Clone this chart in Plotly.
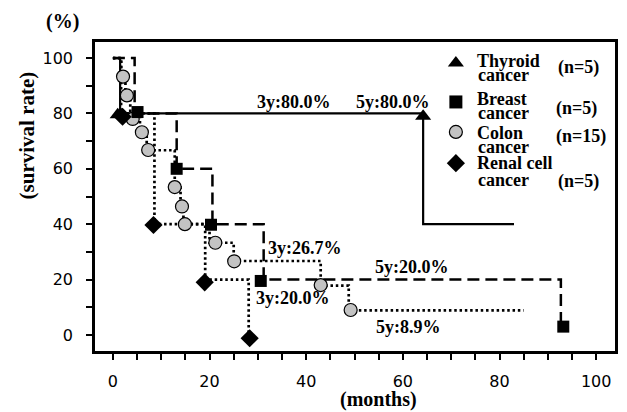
import plotly.graph_objects as go

# ---------------- data ----------------
thyroid_x = [0, 1.5, 1.5, 64.2, 64.2, 83]
thyroid_y = [100, 100, 80, 80, 40, 40]
thyroid_mx = [1.0, 64.2]
thyroid_my = [79.5, 79]

breast_x = [0, 4.5, 4.5, 13.2, 13.2, 20.6, 20.6, 31.2, 31.2, 92.7, 92.7]
breast_y = [100, 100, 80, 80, 60, 60, 40, 40, 20, 20, 4]
breast_mx = [5.1, 13.2, 20.3, 30.6, 93.2]
breast_my = [80.5, 60, 39.8, 19.5, 3]

colon_x = [0, 1.7, 1.7, 2.6, 2.6, 3.6, 3.6, 5.6, 5.6, 7.0, 7.0, 12.8, 12.8,
           14.0, 14.0, 14.6, 14.6, 20.0, 20.0, 25.0, 25.0, 43.0, 43.0,
           48.8, 48.8, 85.0]
colon_y = [100, 100, 93.3, 93.3, 86.7, 86.7, 80, 80, 73.3, 73.3, 66.7, 66.7,
           53.3, 53.3, 46.7, 46.7, 40, 40, 33.3, 33.3, 26.7, 26.7, 17.8, 17.8,
           8.9, 8.9]
colon_mx = [2.1, 2.9, 4.1, 6.0, 7.3, 12.8, 14.3, 14.9, 21.2, 25.1, 43.0, 49.2]
colon_my = [93.3, 86.5, 78.0, 73.2, 66.8, 53.4, 46.4, 40.0, 33.3, 26.6, 18.0, 9.0]

renal_x = [0, 1.7, 1.7, 8.6, 8.6, 19.1, 19.1, 28.1, 28.1]
renal_y = [100, 100, 80, 80, 40, 40, 20, 20, -1]
renal_mx = [2.0, 8.4, 19.0, 28.3]
renal_my = [78.8, 39.7, 19.0, -1.2]

point_labels = ["3y:80.0%", "5y:80.0%", "3y:26.7%", "5y:20.0%", "3y:20.0%", "5y:8.9%"]
point_label_x = [37.4, 58.0, 39.7, 61.9, 37.2, 61.1]
point_label_y = [84.1, 84.1, 31.4, 24.5, 13.4, 2.9]

legend_names = [["Thyroid", "cancer"], ["Breast", "cancer"],
                ["Colon", "cancer"], ["Renal cell", "cancer"]]
legend_n = ["(n=5)", "(n=5)", "(n=15)", "(n=5)"]

x_ticks = [0, 20, 40, 60, 80, 100]
y_ticks = [0, 20, 40, 60, 80, 100]

# ---------------- styles ----------------
SERIF = "Liberation Serif"
SANS = "DejaVu Sans"
GRAY = "#c3c3c3"
DOT = "2.5px,2.8px"
DASH = "12px,6px"

fig = go.Figure()

def line(x, y, dash, width):
    fig.add_trace(go.Scatter(x=x, y=y, mode="lines", showlegend=False,
                             hoverinfo="skip",
                             line=dict(color="black", width=width, dash=dash)))

line(thyroid_x, thyroid_y, "solid", 2.2)
line(breast_x, breast_y, DASH, 2.5)
line(colon_x, colon_y, DOT, 2.7)
line(renal_x, renal_y, DOT, 2.7)

def marks(x, y, symbol, size, color="black", lw=0):
    fig.add_trace(go.Scatter(x=x, y=y, mode="markers", showlegend=False,
                             hoverinfo="skip",
                             marker=dict(symbol=symbol, size=size, color=color,
                                         line=dict(color="black", width=lw))))

marks(colon_mx, colon_my, "circle", 13, GRAY, 1.2)
marks(renal_mx, renal_my, "diamond", 14)
marks(thyroid_mx, thyroid_my, "triangle-up", 14)
marks(breast_mx, breast_my, "square", 12)

# ---------------- custom legend (overlay axes in plot-fraction units) ----------------
leg_sym = ["triangle-up", "square", "circle", "diamond"]
leg_size = [14, 13, 13, 14]
leg_col = ["black", "black", GRAY, "black"]
leg_lw = [0, 0, 1.2, 0]
leg_my = [0.932, 0.806, 0.709, 0.608]
for s, sz, c, lw, yy in zip(leg_sym, leg_size, leg_col, leg_lw, leg_my):
    fig.add_trace(go.Scatter(x=[0.694], y=[yy], xaxis="x2", yaxis="y2",
                             mode="markers", showlegend=False, hoverinfo="skip",
                             marker=dict(symbol=s, size=sz, color=c,
                                         line=dict(color="black", width=lw))))

ann = []
row1_y = [0.939, 0.816, 0.706, 0.608]
row2_y = [0.893, 0.770, 0.660, 0.553]
n_y = [0.916, 0.786, 0.693, 0.547]
n_x = [0.887, 0.883, 0.883, 0.887]
for (a, b), nn, y1, y2, ny, nx in zip(legend_names, legend_n, row1_y, row2_y, n_y, n_x):
    ann.append(dict(text=f"<b>{a}</b>", x=0.730, y=y1, xref="paper", yref="paper",
                    xanchor="left", yanchor="middle", showarrow=False,
                    font=dict(family=SERIF, size=18, color="black")))
    ann.append(dict(text=f"<b>{b}</b>", x=0.733, y=y2, xref="paper", yref="paper",
                    xanchor="left", yanchor="middle", showarrow=False,
                    font=dict(family=SERIF, size=18, color="black")))
    ann.append(dict(text=f"<b>{nn}</b>", x=nx, y=ny, xref="paper", yref="paper",
                    xanchor="left", yanchor="middle", showarrow=False,
                    font=dict(family=SERIF, size=18, color="black")))

for t, xx, yy in zip(point_labels, point_label_x, point_label_y):
    ann.append(dict(text=f"<b>{t}</b>", x=xx, y=yy, xref="x", yref="y",
                    xanchor="center", yanchor="middle", showarrow=False,
                    font=dict(family=SERIF, size=18, color="black")))

ann.append(dict(text="<b>(%)</b>", x=-0.063, y=1.065, xref="paper", yref="paper",
                xanchor="center", yanchor="middle", showarrow=False,
                font=dict(family=SERIF, size=20, color="black")))
ann.append(dict(text="<b>(survival rate)</b>", x=-0.13, y=0.699, xref="paper",
                yref="paper", xanchor="center", yanchor="middle", textangle=-90,
                showarrow=False, font=dict(family=SERIF, size=21, color="black")))
ann.append(dict(text="<b>(months)</b>", x=0.545, y=-0.157, xref="paper",
                yref="paper", xanchor="center", yanchor="middle", showarrow=False,
                font=dict(family=SERIF, size=20, color="black")))

fig.update_layout(
    width=627, height=412,
    margin=dict(l=95, r=9, t=42, b=61, pad=0),
    paper_bgcolor="white", plot_bgcolor="white",
    annotations=ann,
    xaxis=dict(range=[-3.7, 103.9], tickvals=x_ticks, ticks="outside", ticklen=6,
               tickwidth=2, tickcolor="black", showgrid=False, zeroline=False,
               showline=True, linewidth=2.5, linecolor="black", mirror=True,
               ticklabelstandoff=8,
               tickfont=dict(family=SANS, size=16, color="black"),
               minor=dict(dtick=5, tick0=0, ticks="outside", ticklen=6,
                          tickwidth=2, tickcolor="black", showgrid=False)),
    yaxis=dict(range=[-5.8, 105.8], tickvals=y_ticks, ticks="outside", ticklen=6,
               tickwidth=2, tickcolor="black", showgrid=False, zeroline=False,
               showline=True, linewidth=2.5, linecolor="black", mirror=True,
               ticklabelstandoff=10,
               tickfont=dict(family=SANS, size=16, color="black"),
               minor=dict(dtick=10, tick0=0, ticks="outside", ticklen=6,
                          tickwidth=2, tickcolor="black", showgrid=False)),
    xaxis2=dict(overlaying="x", range=[0, 1], visible=False),
    yaxis2=dict(overlaying="y", range=[0, 1], visible=False),
)

fig.write_html("out.html")
